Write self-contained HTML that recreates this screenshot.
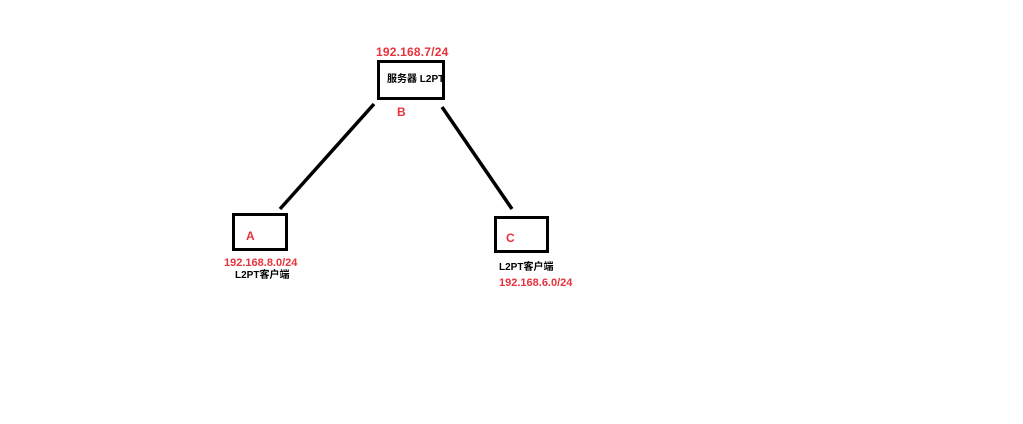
<!DOCTYPE html>
<html><head><meta charset="utf-8"><style>
body{margin:0;width:1023px;height:424px;background:#fff;position:relative;overflow:hidden;font-family:"Liberation Sans","Noto Sans CJK SC",sans-serif;font-weight:bold;font-size:12px}
.b{position:absolute;border:3px solid #000;box-sizing:border-box}
.t{position:absolute;white-space:nowrap;line-height:14px}
.r{color:#e8323c}
</style></head><body>
<svg width="1023" height="424" style="position:absolute;left:0;top:0">
<line x1="374" y1="104" x2="280" y2="209" stroke="#000" stroke-width="3.5"/>
<line x1="442" y1="107" x2="512" y2="209" stroke="#000" stroke-width="3.5"/>
</svg>
<div class="b" style="left:377px;top:60px;width:68px;height:40px"></div>
<div class="b" style="left:232px;top:213px;width:56px;height:38px"></div>
<div class="b" style="left:494px;top:216px;width:55px;height:37px"></div>
<div class="t r" style="left:376px;top:45px;letter-spacing:0.2px">192.168.7/24</div>
<div class="t" style="left:387px;top:73px;font-size:10px">服务器 L2PT</div>
<div class="t r" style="left:397px;top:105px">B</div>
<div class="t r" style="left:246px;top:229px">A</div>
<div class="t r" style="left:506px;top:231px">C</div>
<div class="t r" style="left:224px;top:256px;font-size:11px">192.168.8.0/24</div>
<div class="t" style="left:235px;top:269px;font-size:10px">L2PT客户端</div>
<div class="t" style="left:499px;top:261px;font-size:10px">L2PT客户端</div>
<div class="t r" style="left:499px;top:276px;font-size:11px">192.168.6.0/24</div>
</body></html>
